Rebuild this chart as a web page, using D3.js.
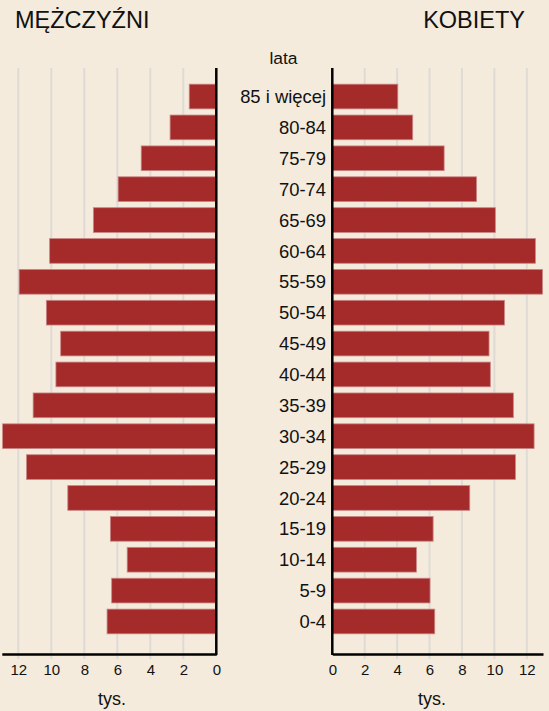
<!DOCTYPE html>
<html>
<head>
<meta charset="utf-8">
<script src="https://cdn.jsdelivr.net/npm/d3@7"></script>
<style>
  html, body { margin: 0; padding: 0; background: #f4ebdd; }
  svg { display: block; font-family: "Liberation Sans", Arial, sans-serif; }
</style>
</head>
<body>
<svg id="chart"></svg>
<script>
// age groups, top to bottom
const ages = ['85 i więcej', '80-84', '75-79', '70-74', '65-69', '60-64', '55-59', '50-54',
  '45-49', '40-44', '35-39', '30-34', '25-29', '20-24', '15-19', '10-14', '5-9', '0-4'];
// thousands of people
const men = [1.64, 2.8, 4.55, 5.95, 7.45, 10.1, 11.95, 10.3, 9.43, 9.72, 11.1, 12.95, 11.5, 9.0, 6.42, 5.4, 6.34, 6.62];
const women = [4.04, 4.96, 6.9, 8.9, 10.06, 12.53, 12.97, 10.62, 9.67, 9.75, 11.17, 12.45, 11.3, 8.48, 6.22, 5.19, 6.03, 6.32];
const tickValues = [0, 2, 4, 6, 8, 10, 12];

const width = 549, height = 711;
const barColor = '#a52a2a';
const gridColor = '#dedbd6';

const svg = d3.select('#chart')
  .attr('width', width)
  .attr('height', height);

const yScale = d3.scaleBand()
  .domain(ages)
  .range([78, 640])
  .padding(0.2);

const xLeft = d3.scaleLinear().domain([13, 0]).range([1.8, 216.3]);
const xRight = d3.scaleLinear().domain([0, 13]).range([332.3, 543]);

const gridTop = 68, axisY = 654, tickEnd = 659;

// gridlines (run a few px below the axis as tick marks)
[xLeft, xRight].forEach(x => {
  svg.append('g').selectAll('line')
    .data(tickValues.filter(d => d > 0))
    .join('line')
      .attr('x1', d => x(d)).attr('x2', d => x(d))
      .attr('y1', gridTop).attr('y2', tickEnd)
      .attr('stroke', gridColor).attr('stroke-width', 2);
});

// bars
svg.append('g').selectAll('rect')
  .data(men)
  .join('rect')
    .attr('x', d => xLeft(d))
    .attr('y', (d, i) => yScale(ages[i]))
    .attr('width', d => xLeft(0) - xLeft(d))
    .attr('height', yScale.bandwidth())
    .attr('fill', barColor)
    .attr('stroke', '#c98585').attr('stroke-width', 0.8);

svg.append('g').selectAll('rect')
  .data(women)
  .join('rect')
    .attr('x', xRight(0))
    .attr('y', (d, i) => yScale(ages[i]))
    .attr('width', d => xRight(d) - xRight(0))
    .attr('height', yScale.bandwidth())
    .attr('fill', barColor)
    .attr('stroke', '#c98585').attr('stroke-width', 0.8);

// bottom axes
const leftAxis = d3.axisBottom(xLeft).tickValues(tickValues).tickSize(0).tickPadding(10);
const rightAxis = d3.axisBottom(xRight).tickValues(tickValues).tickSize(0).tickPadding(10);

[leftAxis, rightAxis].forEach(ax => {
  const g = svg.append('g')
    .attr('transform', `translate(0, ${axisY})`)
    .call(ax);
  g.select('.domain').attr('stroke', '#000').attr('stroke-width', 2.5);
  g.selectAll('text')
    .attr('font-family', '"Liberation Sans", Arial, sans-serif')
    .attr('font-size', 15)
    .attr('fill', '#111');
});

// zero lines
[xLeft(0), xRight(0)].forEach(x => {
  svg.append('line')
    .attr('x1', x).attr('x2', x)
    .attr('y1', gridTop).attr('y2', axisY + 1)
    .attr('stroke', '#000').attr('stroke-width', 2.5);
});

// age labels
svg.append('g').selectAll('text')
  .data(ages)
  .join('text')
    .attr('x', 326)
    .attr('y', d => yScale(d) + yScale.bandwidth() / 2)
    .attr('dy', '0.36em')
    .attr('text-anchor', 'end')
    .attr('font-size', 18.4)
    .attr('fill', '#111')
    .text(d => d);

svg.append('text')
  .attr('x', 283.5).attr('y', 64)
  .attr('text-anchor', 'middle')
  .attr('font-size', 17.4)
  .attr('fill', '#111')
  .text('lata');

// titles
svg.append('text')
  .attr('x', 15).attr('y', 28)
  .attr('font-size', 23.5)
  .attr('fill', '#111')
  .text('MĘŻCZYŹNI');
svg.append('text')
  .attr('x', 525).attr('y', 28)
  .attr('text-anchor', 'end')
  .attr('font-size', 23.5)
  .attr('fill', '#111')
  .text('KOBIETY');

// units
svg.append('text')
  .attr('x', 112).attr('y', 705)
  .attr('text-anchor', 'middle')
  .attr('font-size', 18)
  .attr('fill', '#111')
  .text('tys.');
svg.append('text')
  .attr('x', 432).attr('y', 705)
  .attr('text-anchor', 'middle')
  .attr('font-size', 18)
  .attr('fill', '#111')
  .text('tys.');
</script>
</body>
</html>
